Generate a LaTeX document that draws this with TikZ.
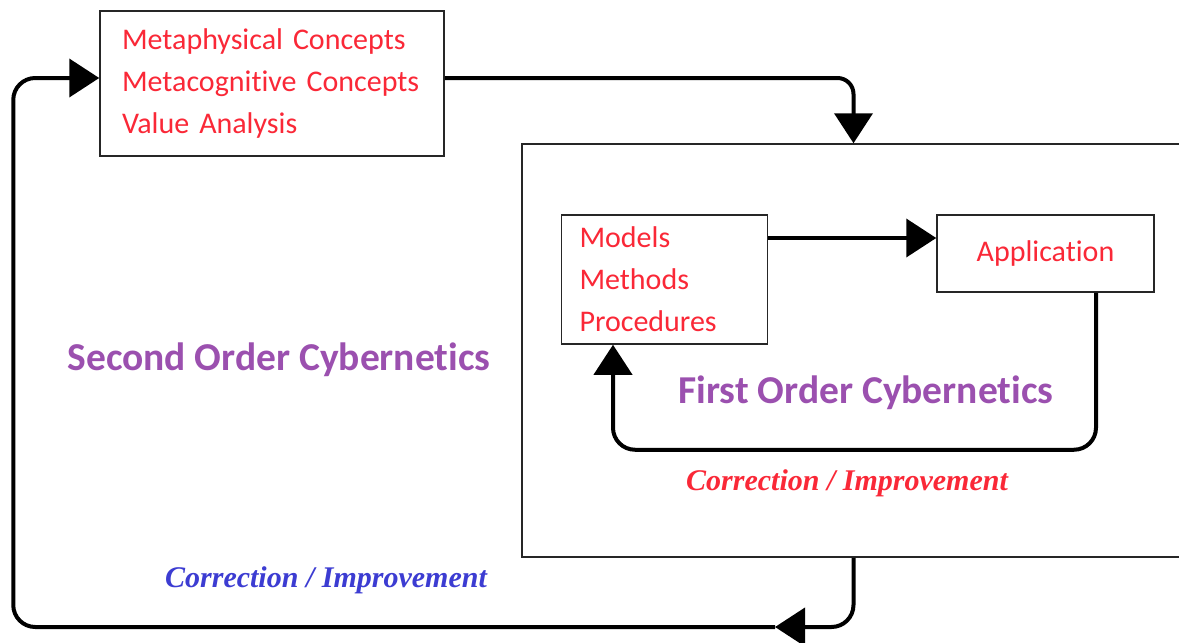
\documentclass[tikz,border=0pt]{standalone}
\usepackage{fontspec}
\setmainfont[Ligatures={NoCommon}]{Carlito}
\newfontfamily\scriptfnt{Liberation Serif}
\usetikzlibrary{arrows.meta,calc}
\definecolor{txtred}{RGB}{250,40,55}
\definecolor{cyberpurple}{RGB}{155,80,175}
\definecolor{corrblue}{RGB}{60,60,210}
\tikzset{
  box/.style={draw=black!85,line width=1.5pt,rectangle,inner sep=0pt},
  conn/.style={line width=4pt,-{Triangle[length=30pt,width=38pt]}},
  boxtext/.style={text=txtred,font=\fontsize{30}{42}\selectfont},
  cyber/.style={text=cyberpurple,font=\fontsize{39.5}{44}\selectfont\bfseries},
  corr/.style={font=\fontsize{30}{34}\selectfont\scriptfnt\bfseries\itshape}
}
\begin{document}
\begin{tikzpicture}[x=1pt,y=-1pt]
\useasboundingbox[fill=white] (0,0) rectangle (1179,643);
% boxes
\node[box,minimum width=344pt,minimum height=145pt,text width=300pt,align=left,boxtext,inner xsep=22pt] (top) at (272,83.5)
  {Metaphysical Concepts\\Metacognitive Concepts\\Value Analysis};
\node[box,minimum width=663pt,minimum height=413pt] (big) at (853.5,350.5) {};
\node[box,minimum width=199pt,minimum height=129pt,text width=170pt,align=left,boxtext,inner xsep=18pt] (models) at (664.5,279.5)
  {Models\\Methods\\Procedures};
\node[box,minimum width=217pt,minimum height=77pt,boxtext] (app) at (1045.5,253.5) {\raisebox{4pt}{Application}};
% labels
\node[cyber] (second) at (279,360) {Second Order Cybernetics};
\node[cyber] (first) at (866,393) {First Order Cybernetics};
\node[corr,text=txtred] (corr1) at (847,483) {Correction / Improvement};
\node[corr,text=corrblue] (corr2) at (326,580) {Correction / Improvement};
% connectors
\draw[conn,rounded corners=16pt] ($(top.east)+(0,-5.5)$) -| (big.north);
\draw[conn] ($(models.east)+(0,-41.5)$) coordinate (m1) -- (m1 -| app.west);
\draw[conn,rounded corners=22pt] ($(app.south)+(50.5,0)$) |- ($(models.south)+(-51.5,105)$) -- ($(models.south)+(-51.5,0)$);
\coordinate (mid) at (775,627);
\draw[conn,rounded corners=22pt] (big.south) |- (mid);
\draw[conn,rounded corners=22pt] (mid) -| ($(top.west)+(-86,-5.5)$) -- ($(top.west)+(0,-5.5)$);
\end{tikzpicture}
\end{document}
